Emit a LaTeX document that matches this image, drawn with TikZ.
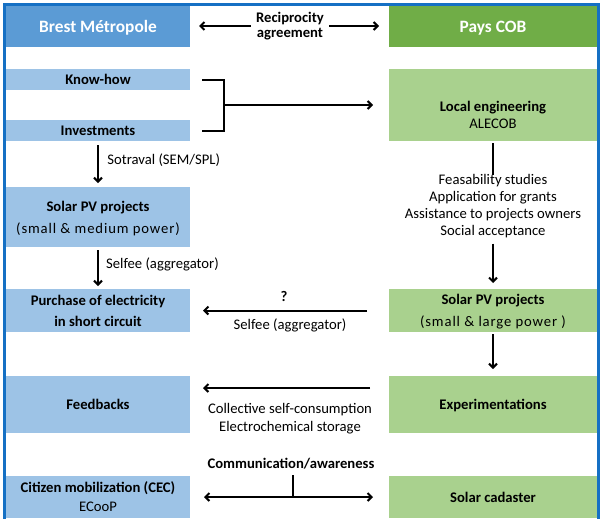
\documentclass[tikz,border=0pt]{standalone}
\usepackage{fontspec}
\setmainfont{Carlito}
\usetikzlibrary{arrows.meta}
\definecolor{hdrblue}{HTML}{5B9BD5}
\definecolor{hdrgreen}{HTML}{70AD47}
\definecolor{ltblue}{HTML}{9DC3E6}
\definecolor{ltgreen}{HTML}{A9D18E}
\definecolor{frameblue}{HTML}{1570C4}
\begin{document}
\begin{tikzpicture}[x=0.75pt,y=-0.75pt,
  box/.style={inner sep=0pt, outer sep=0pt, align=center},
  leftbox/.style={box, fill=ltblue, minimum width=138pt},
  rightbox/.style={box, fill=ltgreen, minimum width=156pt},
  hdr/.style={box, text=white, minimum height=30.75pt, text depth=0pt, font=\bfseries\fontsize{13}{15}\selectfont},
  ttl/.style={font=\bfseries\fontsize{11}{13}\selectfont, align=center},
  txt/.style={font=\fontsize{11}{13}\selectfont, align=center},
  down1/.style={text depth=0pt},
  down2/.style={text depth=-1.5pt},
  line/.style={line width=1.5pt, black},
  arr/.style={line, -{Straight Barb[length=3pt,width=6pt]}},
  darr/.style={line, {Straight Barb[length=3pt,width=6pt]}-{Straight Barb[length=3pt,width=6pt]}},
  frame/.style={line width=2.25pt, frameblue}
]
\useasboundingbox (0,0) rectangle (600,518);
\fill[white] (0,0) rectangle (600,518);

% headers
\node[hdr, fill=hdrblue, minimum width=138pt] (hdrL) at (98,26.5) {Brest Métropole};
\node[hdr, fill=hdrgreen, minimum width=156pt] (hdrR) at (493,26.5) {Pays COB};
\node[ttl, inner sep=0pt, font=\bfseries\fontsize{11}{11.25}\selectfont] (rec) at (290,26) {Reciprocity\\agreement};

% left column
\node[leftbox, minimum height=15.75pt, ttl, down1] (know) at (98,79.5) {Know-how};
\node[leftbox, minimum height=15.75pt, ttl, down1] (inv) at (98,130.5) {Investments};
\node[leftbox, minimum height=45pt, down2, font=\fontsize{11}{16.5}\selectfont] (solL) at (98,217)
  {\textbf{Solar PV projects}\\{\addfontfeatures{LetterSpace=6}(small \& medium power)}};
\node[leftbox, minimum height=32.25pt, down1, font=\bfseries\fontsize{11}{15.75}\selectfont] (purch) at (98,310.5)
  {Purchase of electricity\\in short circuit};
\node[leftbox, minimum height=42.75pt, ttl, down2] (feed) at (98,404.5) {Feedbacks};
\node[leftbox, minimum height=31.5pt, down1, font=\fontsize{11}{14.25}\selectfont] (cit) at (98,497)
  {\textbf{Citizen mobilization (CEC)}\\ECooP};

% right column
\node[rightbox, minimum height=54pt] (loc) at (493,105) {};
\node[txt, inner sep=0pt, font=\fontsize{11}{12.75}\selectfont] (loct) at (493,114.5)
  {\textbf{Local engineering}\\ALECOB};
\node[txt, inner sep=0pt, font=\fontsize{11}{12.75}\selectfont] (feas) at (493,206.5)
  {Feasability studies\\Application for grants\\Assistance to projects owners\\Social acceptance};
\node[rightbox, minimum height=32.25pt, down2, font=\fontsize{11}{16.5}\selectfont] (solR) at (493,310.5)
  {\textbf{Solar PV projects}\\{\addfontfeatures{LetterSpace=6}(small \& large power )}};
\node[rightbox, minimum height=42.75pt, ttl, down2] (exp) at (493,404.5) {Experimentations};
\node[rightbox, minimum height=31.5pt, ttl] (cad) at (493,497) {Solar cadaster};

% middle labels
\node[ttl] (q) at (284,296) {?};
\node[txt] (selfeeR) at (290,325.5) {Selfee (aggregator)};
\node[txt, font=\fontsize{11}{13.5}\selectfont] (coll) at (290,418.5) {Collective self-consumption\\Electrochemical storage};
\node[ttl] (comm) at (291,463.5) {Communication/awareness};

% connectors
\draw[arr] ([shift={(-5,0)}]rec.west) -- ([shift={(9,-0.5)}]hdrL.east);
\draw[arr] ([shift={(5,0)}]rec.east) -- ([shift={(-10,-0.5)}]hdrR.west);

\coordinate (brk) at (224,105);
\draw[line] ([shift={(12,0)}]know.east) -| (brk) |- ([shift={(12,0)}]inv.east);
\draw[arr] (brk) -- ([shift={(-16,0)}]loc.west);

\draw[arr] ([shift={(0,4)}]inv.south) -- node[txt, right, pos=0.4, xshift=3pt] {Sotraval (SEM/SPL)} ([shift={(0,-4)}]solL.north);
\draw[arr] ([shift={(0,3)}]solL.south) -- node[txt, right, pos=0.39, xshift=2pt] {Selfee (aggregator)} ([shift={(0,-3)}]purch.north);

\draw[line] ([shift={(0,2)}]loc.south) -- ([shift={(0,1)}]feas.north);
\draw[arr] ([shift={(0,5)}]feas.south) -- ([shift={(0,-6)}]solR.north);
\draw[arr] ([shift={(0,2)}]solR.south) -- ([shift={(0,-7)}]exp.north);

\draw[arr] ([shift={(-22,0)}]solR.west) -- ([shift={(13,0)}]purch.east);
\draw[arr] ([shift={(-19,-16.5)}]exp.west) -- ([shift={(13,-16.5)}]feed.east);

\coordinate (cj) at (293,497);
\draw[darr] ([shift={(14,0)}]cit.east) -- ([shift={(-16,0)}]cad.west);
\draw[line] (cj) -- ([shift={(0,-22)}]cj);

% frame
\draw[frame] (4.5,530) -- (4.5,4.5) -- (598.5,4.5) -- (598.5,530);
\end{tikzpicture}
\end{document}
